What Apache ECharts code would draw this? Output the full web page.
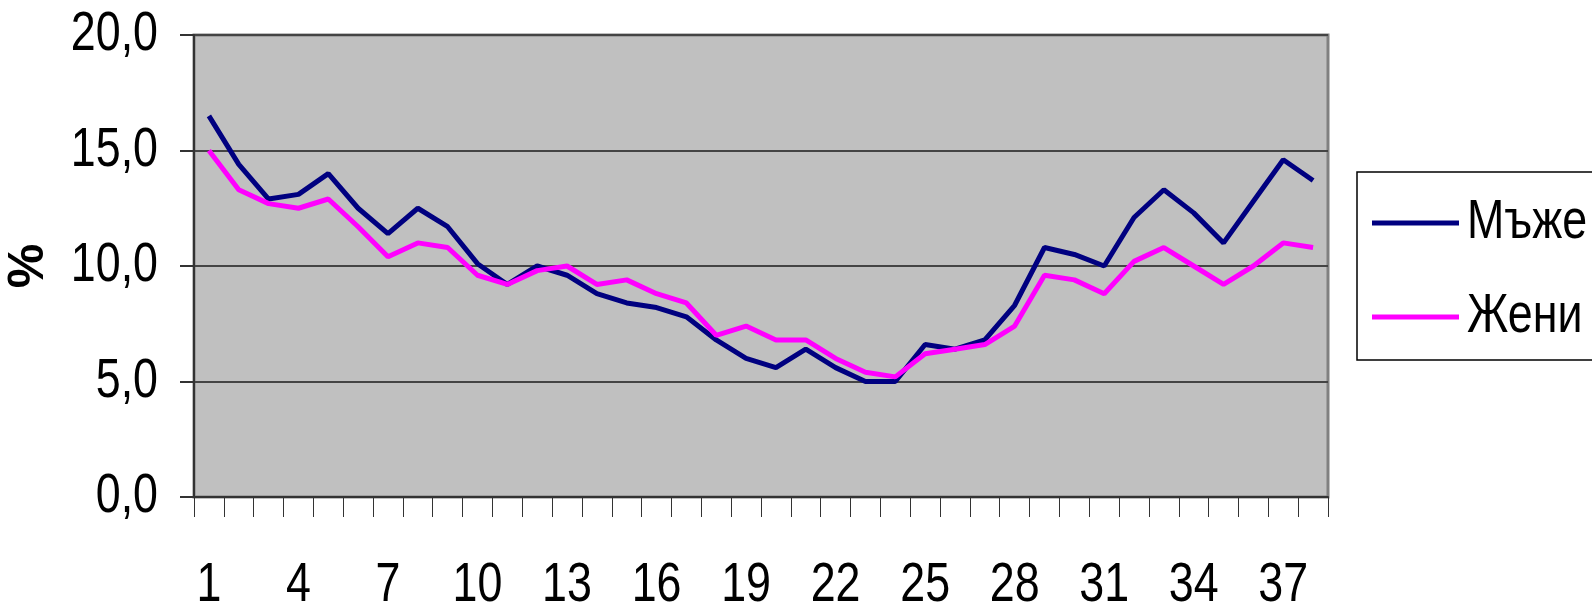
<!DOCTYPE html>
<html>
<head>
<meta charset="utf-8">
<title>Мъже / Жени</title>
<script src="https://cdn.jsdelivr.net/npm/echarts@6/dist/echarts.min.js"></script>
<style>
  html, body { margin: 0; padding: 0; background: #fff; }
  #chart { width: 1592px; height: 608px; }
</style>
</head>
<body>
<div id="chart"></div>
<script>
// categories 1..38
const categories = ['1', '2', '3', '4', '5', '6', '7', '8', '9', '10',
  '11', '12', '13', '14', '15', '16', '17', '18', '19', '20',
  '21', '22', '23', '24', '25', '26', '27', '28', '29', '30',
  '31', '32', '33', '34', '35', '36', '37', '38']

// Мъже
const menValues = [16.5, 14.4, 12.9, 13.1, 14.0, 12.5, 11.4, 12.5, 11.7, 10.1,
  9.2, 10.0, 9.6, 8.8, 8.4, 8.2, 7.8, 6.8, 6.0, 5.6,
  6.4, 5.6, 5.0, 5.0, 6.6, 6.4, 6.8, 8.3, 10.8, 10.5,
  10.0, 12.1, 13.3, 12.3, 11.0, 12.8, 14.6, 13.7]

// Жени
const womenValues = [15.0, 13.3, 12.7, 12.5, 12.9, 11.7, 10.4, 11.0, 10.8, 9.6,
  9.2, 9.8, 10.0, 9.2, 9.4, 8.8, 8.4, 7.0, 7.4, 6.8,
  6.8, 6.0, 5.4, 5.2, 6.2, 6.4, 6.6, 7.4, 9.6, 9.4,
  8.8, 10.2, 10.8, 10.0, 9.2, 10.0, 11.0, 10.8]

// tick labels
const yTickValues = [0, 5, 10, 15, 20]
const yTickLabels = ['0,0', '5,0', '10,0', '15,0', '20,0']
const xTickLabels = ['1', '4', '7', '10', '13', '16', '19', '22', '25', '28', '31', '34', '37']
const yAxisName = '%'

const seriesNames = ['Мъже', 'Жени']
const seriesColors = ['#000080', '#ff00ff']

// Arial Narrow не е наличен -> Liberation Sans, свит хоризонтално
const labelFont = '"Liberation Sans", Arial, sans-serif'
const labelSize = 56
const narrow = 0.8

const chartDom = echarts.init(document.getElementById('chart'))
const option = {
  backgroundColor: '#ffffff',
  animation: false,
  grid: {
    left: 194,
    right: 264,
    top: 35,
    bottom: 111,
    outerBoundsMode: 'none',
    containLabel: false,
    show: true,
    backgroundColor: '#c0c0c0', // сив фон
    borderColor: '#808080',
    borderWidth: 3
  },
  xAxis: {
    type: 'category',
    data: categories,
    boundaryGap: true,
    axisLine: {
      lineStyle: { color: '#333333', width: 2 }
    },
    axisTick: {
      show: true,
      interval: 0,
      length: 20,
      lineStyle: { color: '#333333', width: 1 }
    },
    axisLabel: { show: false },
    splitLine: { show: false }
  },
  yAxis: {
    type: 'value',
    min: 0,
    max: 20,
    interval: 5,
    axisLine: {
      show: true,
      lineStyle: { color: '#333333', width: 2 }
    },
    axisTick: {
      show: true,
      length: 14,
      lineStyle: { color: '#333333', width: 2 }
    },
    axisLabel: { show: false },
    splitLine: {
      show: true,
      lineStyle: { color: '#444444', width: 2 }
    }
  },
  series: [
    {
      name: seriesNames[0],
      type: 'line',
      data: menValues,
      showSymbol: false,
      symbol: 'none',
      lineStyle: { color: seriesColors[0], width: 5 },
      itemStyle: { color: seriesColors[0] }
    },
    {
      name: seriesNames[1],
      type: 'line',
      data: womenValues,
      showSymbol: false,
      symbol: 'none',
      lineStyle: { color: seriesColors[1], width: 5 },
      itemStyle: { color: seriesColors[1] }
    }
  ]
}
chartDom.setOption(option)

// axis labels and legend as narrow text, placed through the chart's own scales
function narrowText(text, x, y, align) {
  return {
    type: 'text',
    x: x,
    y: y,
    scaleX: narrow,
    silent: true,
    style: {
      text: text,
      fill: '#000',
      font: labelSize + 'px ' + labelFont,
      textAlign: align,
      textVerticalAlign: 'middle'
    }
  }
}

const graphics = []
yTickValues.forEach(function(v, i) {
  const py = chartDom.convertToPixel({ yAxisIndex: 0 }, v)
  graphics.push(narrowText(yTickLabels[i], 158, py, 'right'))
})
xTickLabels.forEach(function(c) {
  const px = chartDom.convertToPixel({ xAxisIndex: 0 }, c)
  graphics.push(narrowText(c, px, 586, 'center'))
})

// име на оста (%), завъртяно
const midY = (chartDom.convertToPixel({ yAxisIndex: 0 }, 0) + chartDom.convertToPixel({ yAxisIndex: 0 }, 20)) / 2
graphics.push({
  type: 'text',
  x: 29,
  y: midY,
  rotation: Math.PI / 2,
  silent: true,
  style: {
    text: yAxisName,
    fill: '#000',
    font: 'bold 50px ' + labelFont,
    textAlign: 'center',
    textVerticalAlign: 'middle'
  }
})

// legend box
const legendLeft = 1357
const legendTop = 172
const legendRowY = [223, 317]
graphics.push({
  type: 'rect',
  silent: true,
  shape: { x: legendLeft, y: legendTop, width: 300, height: 188 },
  style: { fill: '#ffffff', stroke: '#000000', lineWidth: 1.5 }
})
seriesNames.forEach(function(name, i) {
  graphics.push({
    type: 'line',
    silent: true,
    shape: { x1: legendLeft + 15, y1: legendRowY[i], x2: legendLeft + 102, y2: legendRowY[i] },
    style: { stroke: seriesColors[i], lineWidth: 5 }
  })
  graphics.push(narrowText(name, legendLeft + 110, legendRowY[i], 'left'))
})

chartDom.setOption({ graphic: graphics })
</script>
</body>
</html>
